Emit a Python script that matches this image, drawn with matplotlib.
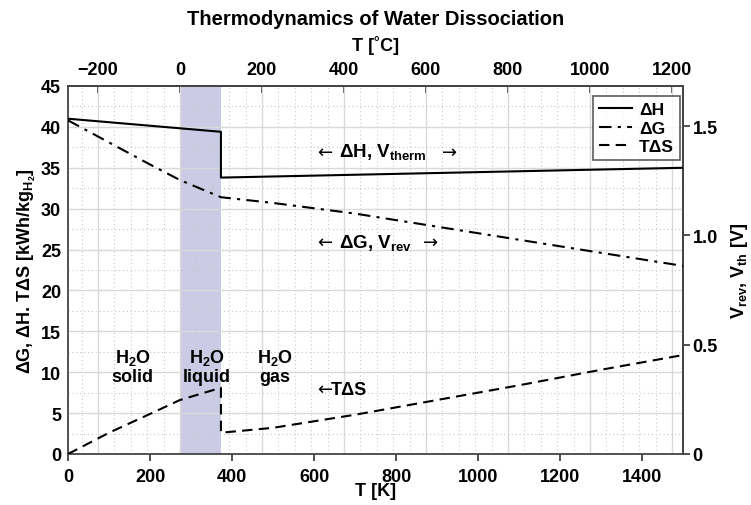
import numpy as np
import matplotlib
matplotlib.use('Agg')
import matplotlib.pyplot as plt
from matplotlib.ticker import MultipleLocator, FixedLocator

plt.rcParams['font.family'] = ['Liberation Sans', 'DejaVu Sans']
plt.rcParams['font.weight'] = 'bold'
plt.rcParams['axes.labelweight'] = 'bold'
plt.rcParams['mathtext.fontset'] = 'custom'
plt.rcParams['mathtext.rm'] = 'Liberation Sans:bold'
plt.rcParams['mathtext.it'] = 'Liberation Sans:bold'
plt.rcParams['mathtext.bf'] = 'Liberation Sans:bold'

# Data (T in K, energies in kWh/kg_H2)
T_H = [0, 373, 373, 1500]
dH = [41.0, 39.4, 33.8, 35.0]

T_G = [0, 100, 200, 273, 373, 500, 700, 900, 1100, 1300, 1500]
dG = [40.8, 38.1, 35.4, 33.5, 31.4, 30.7, 29.4, 27.8, 26.2, 24.6, 23.0]

T_S = [0, 100, 200, 273, 373, 373, 500, 700, 900, 1100, 1300, 1500]
TdS = [0.0, 2.6, 4.9, 6.6, 8.1, 2.6, 3.2, 4.8, 6.6, 8.4, 10.3, 12.1]

liquid_range = (273.15, 373.15)
celsius_ticks = [-200, 0, 200, 400, 600, 800, 1000, 1200]
kelvin_ticks = [0, 200, 400, 600, 800, 1000, 1200, 1400]
volt_ticks = [0, 0.5, 1.0, 1.5]
volt_labels = ['0', '0.5', '1.0', '1.5']

kwh_to_volt = 1.683 / 45.0

fig = plt.figure(figsize=(7.51, 5.06), dpi=100)
ax = fig.add_axes([68 / 751, 51 / 506, 615 / 751, 368 / 506])

ax.set_xlim(0, 1500)
ax.set_ylim(0, 45)

# liquid water band
ax.axvspan(*liquid_range, color='#cbcbe6', lw=0, zorder=0)

# grid: horizontal from the left axis, vertical from the Celsius axis
for c in np.arange(-240, 1241, 40):
    if c % 200 == 0:
        continue
    ax.axvline(c + 273.15, color='#c8c8c8', lw=0.8, ls=(0, (1, 2.5)), zorder=0.5)
for c in celsius_ticks:
    ax.axvline(c + 273.15, color='#d9d9d9', lw=1.0, zorder=0.5)
for y in np.arange(2.5, 45, 5):
    ax.axhline(y, color='#c8c8c8', lw=0.8, ls=(0, (1, 2.5)), zorder=0.5)
for y in np.arange(5, 45, 5):
    ax.axhline(y, color='#d9d9d9', lw=1.0, zorder=0.5)

lH, = ax.plot(T_H, dH, color='black', lw=1.5, ls='-', label='ΔH', zorder=3)
lG, = ax.plot(T_G, dG, color='black', lw=1.5, ls=(0, (6, 3, 1.5, 3)), label='ΔG', zorder=3)
lS, = ax.plot(T_S, TdS, color='black', lw=1.5, ls=(0, (5, 3)), label='TΔS', zorder=3)

# annotations
arrow_font = dict(family='DejaVu Sans', fontweight='normal', fontsize=13, va='center')
ax.text(607, 37.0, '←', ha='left', **arrow_font)
ax.text(660, 37.0, 'ΔH, V$_{\\rm therm}$', fontsize=13.5, ha='left', va='center')
ax.text(948, 37.0, '→', ha='right', **arrow_font)
ax.text(607, 25.9, '←', ha='left', **arrow_font)
ax.text(660, 25.9, 'ΔG, V$_{\\rm rev}$', fontsize=13.5, ha='left', va='center')
ax.text(902, 25.9, '→', ha='right', **arrow_font)
ax.text(158, 10.8, 'H$_2$O\nsolid', fontsize=13, ha='center', va='center', linespacing=1.1)
ax.text(338, 10.8, 'H$_2$O\nliquid', fontsize=13, ha='center', va='center', linespacing=1.1)
ax.text(505, 10.8, 'H$_2$O\ngas', fontsize=13, ha='center', va='center', linespacing=1.1)
ax.text(607, 7.9, '←', ha='left', **arrow_font)
ax.text(642, 7.9, 'TΔS', fontsize=13, ha='left', va='center')

leg = ax.legend(handles=[lH, lG, lS], loc='upper right', bbox_to_anchor=(0.995, 0.973),
                borderaxespad=0, fontsize=12.5, frameon=True, fancybox=False,
                edgecolor='#333333', handlelength=1.9, handletextpad=0.4, borderpad=0.35,
                labelspacing=0.2)
leg.get_frame().set_linewidth(1.2)

# bottom / left axes
ax.xaxis.set_major_locator(FixedLocator(kelvin_ticks))
ax.yaxis.set_major_locator(MultipleLocator(5))
ax.tick_params(axis='x', direction='out', length=5, width=1.2, pad=5, labelsize=13, colors='#333333',
               labelcolor='black')
ax.tick_params(axis='y', direction='in', length=0, pad=5, labelsize=13, labelcolor='black')
ax.set_xlabel('T [K]', fontsize=13, labelpad=-2)
ax.set_ylabel('ΔG, ΔH. TΔS [kWh/kg$_{\\mathrm{H}_2}$]', fontsize=13, labelpad=2)
for s in ax.spines.values():
    s.set_color('#444444')
    s.set_linewidth(1.3)

# top Celsius axis
top = ax.secondary_xaxis('top', functions=(lambda k: k - 273.15, lambda c: c + 273.15))
top.xaxis.set_major_locator(FixedLocator(celsius_ticks))
top.tick_params(direction='in', length=5, width=1.2, pad=6, labelsize=13, colors='#333333',
                labelcolor='black')
top.set_xlabel('T [˚C]', fontsize=13, labelpad=7.5)
top.spines['top'].set_color('#444444')
top.spines['top'].set_linewidth(1.3)

# right voltage axis
right = ax.secondary_yaxis('right', functions=(lambda y: y * kwh_to_volt, lambda v: v / kwh_to_volt))
right.yaxis.set_major_locator(FixedLocator(volt_ticks))
right.set_yticklabels(volt_labels)
right.tick_params(direction='out', length=5, width=1.2, pad=2, labelsize=13, colors='#333333',
                  labelcolor='black')
right.set_ylabel('V$_{\\rm rev}$, V$_{\\rm th}$ [V]', fontsize=13, labelpad=8)
right.spines['right'].set_color('#444444')
right.spines['right'].set_linewidth(1.3)

fig.suptitle('Thermodynamics of Water Dissociation', fontsize=14.5, fontweight='bold', y=0.98)

fig.savefig('out.png', dpi=100)
